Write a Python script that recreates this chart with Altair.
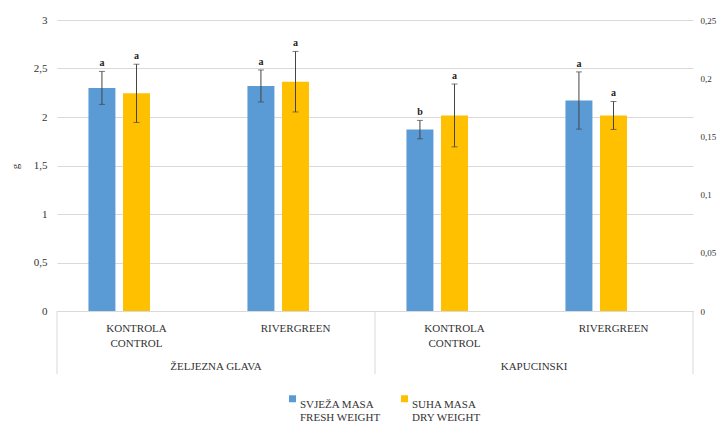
import altair as alt
import pandas as pd

# ---- data ----
keys = ["ZG-K", "ZG-R", "KA-K", "KA-R"]
groups = ["ŽELJEZNA GLAVA", "ŽELJEZNA GLAVA", "KAPUCINSKI", "KAPUCINSKI"]
treatments = [["KONTROLA", "CONTROL"], ["RIVERGREEN"], ["KONTROLA", "CONTROL"], ["RIVERGREEN"]]
fresh = [2.30, 2.32, 1.87, 2.17]
fresh_err = [0.17, 0.165, 0.095, 0.295]
fresh_sig = ["a", "a", "b", "a"]
dry = [0.187, 0.197, 0.168, 0.168]
dry_err = [0.025, 0.026, 0.027, 0.012]
dry_sig = ["a", "a", "a", "a"]
series_keys = ["fresh", "dry", "blank"]
legend_labels = {"fresh": ["SVJEŽA MASA", "FRESH WEIGHT"], "dry": ["SUHA MASA", "DRY WEIGHT"]}
left_ticks = [0, 0.5, 1, 1.5, 2, 2.5, 3]
right_ticks = [0, 0.05, 0.1, 0.15, 0.2, 0.25]

rows = []
for i, k in enumerate(keys):
    rows.append(dict(key=k, group=groups[i], series="fresh", value=fresh[i],
                     lo=fresh[i] - fresh_err[i], hi=fresh[i] + fresh_err[i], sig=fresh_sig[i]))
    rows.append(dict(key=k, group=groups[i], series="dry", value=dry[i],
                     lo=dry[i] - dry_err[i], hi=dry[i] + dry_err[i], sig=dry_sig[i]))
df = pd.DataFrame(rows)

W, H = 636, 291
FONT = "'Liberation Serif', 'Times New Roman', serif"
TXT = "#333333"

def arr(lst):
    return "[" + ",".join("'" + s + "'" for s in lst) + "]"

x_label_expr = " : ".join(f"datum.value == '{k}' ? {arr(t)}" for k, t in zip(keys, treatments)) + " : ''"
leg_expr = f"datum.value == 'fresh' ? {arr(legend_labels['fresh'])} : {arr(legend_labels['dry'])}"

xsc = alt.Scale(domain=keys, paddingInner=0, paddingOuter=0)
xaxis = alt.Axis(title=None, labelExpr=x_label_expr, labelAngle=0, ticks=False, domain=True,
                 domainColor="#d9d9d9", labelPadding=11, labelBaseline="top", labelLineHeight=15,
                 labelFontSize=11, grid=False)
xoff_sc = alt.Scale(domain=series_keys, paddingInner=0.22, paddingOuter=0.91)
col_sc = alt.Scale(domain=["fresh", "dry"], range=["#5b9bd5", "#ffc000"])
legend = alt.Legend(title=None, orient="none", legendX=230, legendY=373, direction="horizontal",
                    symbolType="square", symbolSize=49, symbolStrokeWidth=0, labelExpr=leg_expr,
                    labelFont=FONT, labelFontSize=11, labelColor=TXT, columnPadding=18,
                    labelBaseline="top", labelOffset=2)

def series_layer(name, yscale, yaxis):
    base = alt.Chart(df).transform_filter(alt.datum.series == name)
    x = alt.X("key:N", scale=xsc, axis=xaxis)
    xo = alt.XOffset("series:N", scale=xoff_sc)
    bars = base.mark_bar().encode(
        x=x, xOffset=xo,
        y=alt.Y("value:Q", scale=yscale, axis=yaxis),
        color=alt.Color("series:N", scale=col_sc, legend=legend))
    rule = base.mark_rule(color="#444444", strokeWidth=1).encode(
        x=x, xOffset=xo, y=alt.Y("lo:Q", scale=yscale, axis=yaxis), y2="hi:Q")
    cap_lo = base.mark_tick(color="#444444", size=6, thickness=1, orient="horizontal").encode(
        x=x, xOffset=xo, y=alt.Y("lo:Q", scale=yscale, axis=yaxis))
    cap_hi = base.mark_tick(color="#444444", size=6, thickness=1, orient="horizontal").encode(
        x=x, xOffset=xo, y=alt.Y("hi:Q", scale=yscale, axis=yaxis))
    txt = base.mark_text(baseline="bottom", dy=-3, fontWeight="bold", fontSize=10,
                         font=FONT, color="#222222").encode(
        x=x, xOffset=xo, y=alt.Y("hi:Q", scale=yscale, axis=yaxis), text="sig:N")
    return alt.layer(bars, rule, cap_lo, cap_hi, txt)

left_axis = alt.Axis(title="g", values=left_ticks, labelExpr="replace(format(datum.value, '~g'), '.', ',')",
                     grid=True, gridColor="#d9d9d9", domain=False, ticks=False, labelPadding=10,
                     labelFontSize=11, titleFontSize=11, titleFontWeight="normal",
                     titleX=-37, titleY=146)
right_axis = alt.Axis(title=None, orient="right", values=right_ticks,
                      labelExpr="replace(format(datum.value, '~g'), '.', ',')",
                      grid=False, domain=False, ticks=False, labelPadding=7, labelFontSize=9)

fresh_layer = series_layer("fresh", alt.Scale(domain=[0, 3], nice=False), left_axis)
dry_layer = series_layer("dry", alt.Scale(domain=[0, 0.25], nice=False), right_axis)

sep_df = pd.DataFrame({"key": [keys[0], keys[2]]})
sep_end_df = pd.DataFrame({"key": [keys[-1]]})
sep = alt.Chart(sep_df).mark_rule(color="#d9d9d9").encode(
    x=alt.X("key:N", scale=xsc, axis=xaxis, bandPosition=0), y=alt.value(H), y2=alt.value(H + 63))
sep_end = alt.Chart(sep_end_df).mark_rule(color="#d9d9d9").encode(
    x=alt.X("key:N", scale=xsc, axis=xaxis, bandPosition=1), y=alt.value(H), y2=alt.value(H + 63))

grp_df = pd.DataFrame({"key": [keys[0], keys[2]], "group": [groups[0], groups[2]]})
grp = alt.Chart(grp_df).mark_text(font=FONT, fontSize=11, color=TXT, baseline="middle").encode(
    x=alt.X("key:N", scale=xsc, axis=xaxis, bandPosition=1), y=alt.value(H + 56), text="group:N")

chart = alt.layer(fresh_layer, dry_layer, sep, sep_end, grp).resolve_scale(y="independent").properties(
    width=W, height=H, autosize=alt.AutoSizeParams(type="none"),
    padding={"left": 49, "top": 12, "right": 26, "bottom": 112},
).configure_view(stroke=None).configure_axis(
    labelFont=FONT, titleFont=FONT, labelColor=TXT, titleColor=TXT
)

chart.save("out.html", embed_options={"renderer": "svg", "actions": False})
